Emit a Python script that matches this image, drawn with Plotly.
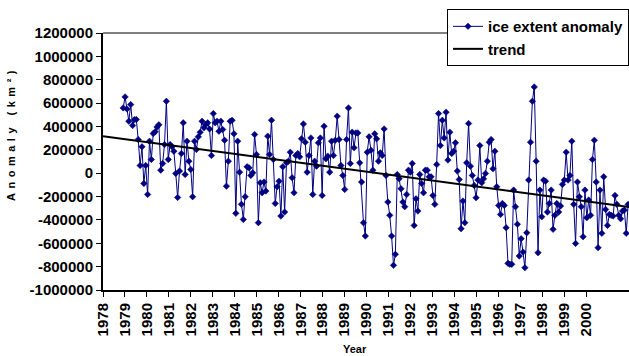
import numpy as np
import plotly.graph_objects as go

# ---- data ----
# monthly sea-ice extent anomaly, thousands of km^2
anomaly_k = [
    559, 653, 550, 445, 587, 408, 459, 459, 288, 66, 226, -88, 66, -182, 274, 117, 339, 354, 396, 414,
    26, 83, 245, 616, 117, 245, 226, 188, -2, -208, 18, 168, 431, -11, 274, 103, 32, -202, 274, 203,
    311, 351, 445, 388, 416, 431, 379, 151, 510, 431, 445, 359, 445, 374, 282, -111, 103, 445, 453, 337,
    -344, 274, 9, -267, -396, -202, 55, 46, -19, 3, 331, 160, -424, -82, -168, -76, -153, 317, 160, 453,
    117, -259, -116, -68, -367, 55, -333, 89, 103, 180, -39, -168, 151, 168, 140, 294, 422, 265, 9, 151,
    302, -182, 103, 60, 260, 302, -190, 402, 123, 146, 9, 274, 151, 282, 488, 288, 66, -19, -139, 288,
    559, 83, 351, 217, 345, 345, 89, -76, -424, -538, 180, 311, 197, 26, 337, 294, 103, 174, 151, 379,
    -19, -247, -361, -538, -789, -695, -11, -48, -133, -247, -287, -182, 26, 9, 83, -447, -219, -324, -11, -88,
    -168, 26, 26, -31, -31, -190, -267, 74, 510, 237, 453, 302, 522, 112, 351, 168, 188, 260, 18, -54,
    -475, -239, -424, 89, 425, 60, -19, -105, -210, -59, 237, -82, -48, -2, 103, 265, 288, 38, 188, -116,
    -276, -353, -259, -276, -467, -772, -780, -780, -145, -287, -438, -709, -561, -675, -809, -510, -59, 265, 616, 738,
    103, -681, -145, -373, -59, -68, -333, -259, -145, -481, -361, -259, -333, -282, -96, -59, 180, -59, -19, 274,
    -267, -601, -76, -202, -287, -544, -145, -381, -230, -361, 117, 282, -76, -638, -145, -515, -31, -310, -447, -353,
    -361, -367, -190, -267, -361, -390, -324, -316, -515, -267,
]
anomaly = [v * 1000 for v in anomaly_k]

first_time = 1978.92          # position of first sample (years)
last_time = 2001.91           # position of last sample (years)

trend_x = [1978.0, 2001.95]
trend_y = [316000, -290000]

year_ticks = list(range(1978, 2001))
year_labels = [str(y) for y in year_ticks]

y_ticks = [1200000, 1000000, 800000, 600000, 400000, 200000, 0,
           -200000, -400000, -600000, -800000, -1000000]
y_labels = ["1200000", "1000000", "800000", "600000", "400000", "200000", "0",
            "-200000", "-400000", "-600000", "-800000", "-1000000"]

series_name = "ice extent anomaly"
trend_name = "trend"
x_title = "Year"
y_title = "Anomaly (km²)"

# ---- figure ----
t = np.linspace(first_time, last_time, len(anomaly))

FONT = "Liberation Sans, Arial, sans-serif"
NAVY = "#000080"

fig = go.Figure()
fig.add_trace(go.Scatter(
    x=t, y=anomaly, name=series_name, mode="lines+markers",
    line=dict(color=NAVY, width=1),
    marker=dict(symbol="diamond", size=5, color=NAVY, line=dict(color=NAVY, width=0.5)),
))
fig.add_trace(go.Scatter(
    x=trend_x, y=trend_y, name=trend_name, mode="lines",
    line=dict(color="black", width=2),
))

tickfont = dict(family=FONT, size=15, color="black", weight="bold")

fig.update_layout(
    width=629, height=356,
    margin=dict(l=103, r=0, t=33, b=66),
    paper_bgcolor="white", plot_bgcolor="white",
    font=dict(family=FONT, color="black"),
    showlegend=True,
    legend=dict(
        x=0.654, y=1.093, xanchor="left", yanchor="top",
        bgcolor="white", bordercolor="black", borderwidth=1,
        font=dict(family=FONT, size=15, color="black", weight="bold"),
        tracegroupgap=0, itemwidth=30,
    ),
    xaxis=dict(
        range=[1978, 2001.95], tickmode="array", tickvals=year_ticks, ticktext=year_labels,
        tickangle=-90, ticks="outside", ticklen=5, tickcolor="black", tickwidth=1,
        showline=True, linecolor="black", linewidth=2, showgrid=False, zeroline=False,
        tickfont=tickfont,
    ),
    yaxis=dict(
        range=[-1000000, 1200000], tickmode="array", tickvals=y_ticks, ticktext=y_labels,
        ticks="outside", ticklen=5, tickcolor="black", tickwidth=1,
        showline=True, linecolor="black", linewidth=2, showgrid=False, zeroline=False,
        tickfont=tickfont,
    ),
    shapes=[dict(type="line", xref="paper", yref="paper", x0=0, x1=1, y0=1, y1=1,
                 line=dict(color="black", width=1), layer="below")],
    annotations=[
        dict(text="<b>" + x_title + "</b>", xref="paper", yref="paper", x=0.479, y=-0.2296,
             xanchor="center", yanchor="middle", showarrow=False,
             font=dict(family=FONT, size=11, color="black")),
        dict(text='<span style="letter-spacing:4.5px"><b>' + y_title + "</b></span>",
             xref="paper", yref="paper", x=-0.175, y=0.611,
             xanchor="center", yanchor="middle", showarrow=False, textangle=-90,
             font=dict(family=FONT, size=11, color="black")),
    ],
)

fig.write_html("out.html")
